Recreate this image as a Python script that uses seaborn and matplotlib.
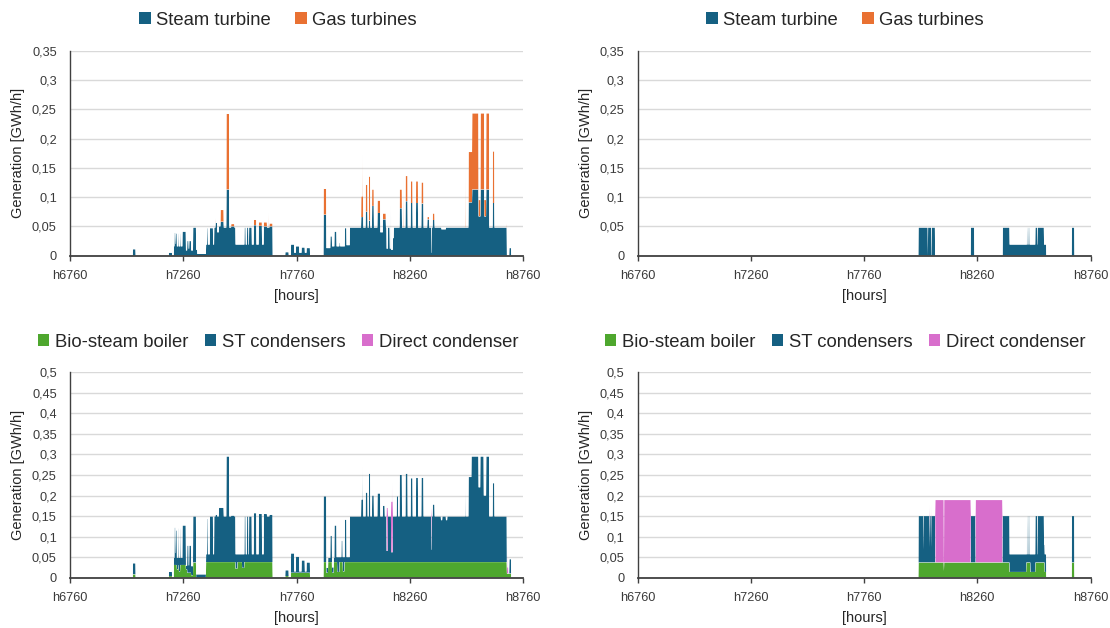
import numpy as np
import pandas as pd
import matplotlib
matplotlib.use("Agg")
import matplotlib.pyplot as plt
import seaborn as sns
import seaborn.objects as so
from matplotlib.patches import Patch

# ---------------------------------------------------------------------------
# Hourly generation, stored as run-length segments: (first hour, end hour, GWh/h)
# ---------------------------------------------------------------------------
hour_ticks = [6760, 7260, 7760, 8260, 8760]
hour_tick_labels = ["h6760", "h7260", "h7760", "h8260", "h8760"]

top_y_ticks = [0, 0.05, 0.10, 0.15, 0.20, 0.25, 0.30, 0.35]
top_y_labels = ["0", "0,05", "0,1", "0,15", "0,2", "0,25", "0,3", "0,35"]
bottom_y_ticks = [0, 0.05, 0.10, 0.15, 0.20, 0.25, 0.30, 0.35, 0.40, 0.45, 0.50]
bottom_y_labels = ["0", "0,05", "0,1", "0,15", "0,2", "0,25", "0,3", "0,35",
                   "0,4", "0,45", "0,5"]

turbine_series = ["Steam turbine", "Gas turbines"]
condenser_series = ["Bio-steam boiler", "ST condensers", "Direct condenser"]

steam_turbine_left = [
    (7038, 7050, 0.011), (7197, 7211, 0.005),
    (7219, 7222, 0.016), (7222, 7226, 0.039), (7226, 7228, 0.020), (7228, 7232, 0.038),
    (7232, 7239, 0.016), (7239, 7241, 0.038), (7241, 7247, 0.016), (7247, 7249, 0.038),
    (7249, 7257, 0.016), (7257, 7272, 0.041), (7272, 7278, 0.009), (7278, 7284, 0.025),
    (7284, 7287, 0.012), (7287, 7295, 0.025), (7295, 7304, 0.009), (7304, 7317, 0.048),
    (7317, 7322, 0.010), (7322, 7361, 0.003),
    (7361, 7366, 0.019), (7366, 7369, 0.047), (7369, 7378, 0.019), (7378, 7392, 0.047),
    (7392, 7397, 0.019), (7397, 7403, 0.048), (7403, 7410, 0.056), (7410, 7418, 0.040),
    (7418, 7425, 0.050), (7425, 7439, 0.058), (7439, 7451, 0.048), (7451, 7463, 0.113),
    (7463, 7472, 0.048), (7472, 7486, 0.050), (7486, 7491, 0.048), (7491, 7531, 0.019),
    (7531, 7536, 0.048), (7536, 7542, 0.019), (7542, 7548, 0.048), (7548, 7551, 0.019),
    (7551, 7563, 0.048), (7563, 7572, 0.019), (7572, 7583, 0.052), (7583, 7594, 0.019),
    (7594, 7608, 0.051), (7608, 7616, 0.019), (7616, 7630, 0.050), (7630, 7641, 0.048),
    (7641, 7655, 0.050),
    (7711, 7726, 0.006),
    (7736, 7750, 0.019), (7750, 7758, 0.005), (7758, 7772, 0.016), (7772, 7783, 0.005),
    (7783, 7797, 0.014), (7797, 7805, 0.005), (7805, 7820, 0.013),
    (7880, 7892, 0.070), (7892, 7910, 0.013), (7910, 7917, 0.033), (7917, 7928, 0.016),
    (7928, 7937, 0.041), (7937, 7950, 0.016), (7950, 7953, 0.022), (7953, 7974, 0.016),
    (7974, 7981, 0.047), (7981, 7996, 0.018),
    (7996, 8046, 0.048), (8046, 8055, 0.066), (8055, 8066, 0.048), (8066, 8074, 0.075),
    (8074, 8080, 0.048), (8080, 8086, 0.060), (8086, 8094, 0.048), (8094, 8102, 0.085),
    (8102, 8118, 0.048), (8118, 8130, 0.073), (8130, 8142, 0.040), (8142, 8155, 0.062),
    (8155, 8158, 0.048), (8158, 8164, 0.012), (8164, 8172, 0.048), (8172, 8177, 0.012),
    (8177, 8178, 0.085), (8178, 8186, 0.010), (8186, 8190, 0.030), (8190, 8216, 0.048),
    (8216, 8226, 0.081), (8226, 8242, 0.048), (8242, 8251, 0.093), (8251, 8265, 0.048),
    (8265, 8273, 0.090), (8273, 8288, 0.048), (8288, 8297, 0.090), (8297, 8312, 0.048),
    (8312, 8321, 0.089), (8321, 8338, 0.048), (8338, 8346, 0.062), (8346, 8356, 0.048),
    (8356, 8358, 0.005), (8358, 8362, 0.048), (8362, 8370, 0.061), (8370, 8400, 0.048),
    (8400, 8420, 0.045), (8420, 8520, 0.048),
    (8520, 8536, 0.091), (8536, 8564, 0.113), (8564, 8573, 0.067), (8573, 8589, 0.113),
    (8589, 8598, 0.067), (8598, 8611, 0.113), (8611, 8627, 0.048), (8627, 8634, 0.090),
    (8634, 8689, 0.048),
    (8700, 8708, 0.013),
]

gas_turbines_left = [
    (7404, 7405, 0.008), (7425, 7439, 0.020), (7451, 7463, 0.129), (7472, 7486, 0.004),
    (7572, 7583, 0.009), (7594, 7608, 0.006), (7616, 7630, 0.007), (7636, 7637, 0.025),
    (7641, 7655, 0.005),
    (7880, 7892, 0.044),
    (8046, 8050, 0.035), (8050, 8051, 0.107), (8051, 8055, 0.035),
    (8066, 8074, 0.046), (8080, 8086, 0.075), (8094, 8102, 0.028), (8118, 8130, 0.021),
    (8142, 8155, 0.010), (8216, 8226, 0.032), (8232, 8233, 0.080), (8242, 8251, 0.043),
    (8265, 8273, 0.037), (8288, 8297, 0.037), (8312, 8321, 0.036), (8338, 8346, 0.004),
    (8362, 8370, 0.011), (8505, 8506, 0.099),
    (8520, 8536, 0.086), (8536, 8564, 0.130), (8564, 8573, 0.028), (8573, 8589, 0.130),
    (8589, 8598, 0.028), (8598, 8611, 0.130), (8627, 8634, 0.088), (8686, 8687, 0.008),
]

steam_turbine_right = [
    (8001, 8042, 0.048), (8043, 8057, 0.048), (8059, 8074, 0.048),
    (8232, 8247, 0.048),
    (8373, 8403, 0.048), (8403, 8480, 0.019), (8480, 8482, 0.048), (8482, 8487, 0.019),
    (8487, 8491, 0.048), (8491, 8517, 0.019), (8517, 8526, 0.048), (8526, 8528, 0.019),
    (8528, 8555, 0.048), (8555, 8565, 0.019),
    (8678, 8689, 0.048),
]

gas_turbines_right = []

bio_boiler_left = [
    (7038, 7050, 0.008), (7197, 7211, 0.004),
    (7219, 7232, 0.031), (7232, 7239, 0.020), (7239, 7241, 0.031), (7241, 7247, 0.015),
    (7247, 7272, 0.031), (7272, 7278, 0.020), (7278, 7295, 0.012), (7295, 7304, 0.006),
    (7304, 7317, 0.037),
    (7361, 7491, 0.038), (7491, 7500, 0.022), (7500, 7520, 0.038), (7520, 7530, 0.024),
    (7530, 7655, 0.038),
    (7711, 7726, 0.004), (7736, 7820, 0.012),
    (7880, 7892, 0.038), (7892, 7900, 0.012), (7900, 7917, 0.038), (7917, 7925, 0.012),
    (7925, 7940, 0.038), (7940, 7950, 0.014), (7950, 7965, 0.038), (7965, 7972, 0.015),
    (7972, 8689, 0.038), (8689, 8708, 0.010),
]

st_condensers_left = [
    (7038, 7050, 0.027), (7197, 7211, 0.010),
    (7219, 7222, 0.017), (7222, 7226, 0.091), (7226, 7228, 0.029), (7228, 7232, 0.084),
    (7232, 7239, 0.028), (7239, 7241, 0.089), (7241, 7247, 0.033), (7247, 7249, 0.089),
    (7249, 7257, 0.017), (7257, 7272, 0.096), (7272, 7278, 0.009), (7278, 7284, 0.066),
    (7284, 7287, 0.018), (7287, 7295, 0.066), (7295, 7304, 0.022), (7304, 7317, 0.112),
    (7317, 7361, 0.008),
    (7361, 7366, 0.019), (7366, 7369, 0.105), (7369, 7378, 0.019), (7378, 7392, 0.111),
    (7392, 7397, 0.019), (7397, 7403, 0.111), (7403, 7410, 0.115), (7410, 7418, 0.111),
    (7418, 7439, 0.132), (7439, 7451, 0.111), (7451, 7463, 0.257), (7463, 7472, 0.111),
    (7472, 7486, 0.113), (7486, 7491, 0.111), (7491, 7500, 0.035), (7500, 7520, 0.019),
    (7520, 7530, 0.033), (7530, 7531, 0.019), (7531, 7536, 0.111), (7536, 7542, 0.019),
    (7542, 7548, 0.111), (7548, 7551, 0.019), (7551, 7563, 0.111), (7563, 7572, 0.019),
    (7572, 7583, 0.119), (7583, 7594, 0.019), (7594, 7608, 0.117), (7608, 7616, 0.019),
    (7616, 7630, 0.117), (7630, 7641, 0.111), (7641, 7655, 0.115),
    (7711, 7726, 0.014),
    (7736, 7750, 0.047), (7750, 7758, 0.003), (7758, 7772, 0.039), (7772, 7783, 0.003),
    (7783, 7797, 0.030), (7797, 7805, 0.003), (7805, 7820, 0.025),
    (7880, 7892, 0.160), (7892, 7900, 0.012), (7900, 7910, 0.010), (7910, 7917, 0.064),
    (7917, 7925, 0.013), (7925, 7928, 0.010), (7928, 7937, 0.089), (7937, 7940, 0.012),
    (7940, 7950, 0.036), (7950, 7959, 0.012), (7959, 7964, 0.052), (7964, 7965, 0.012),
    (7965, 7972, 0.035), (7972, 7974, 0.012), (7974, 7981, 0.103), (7981, 7996, 0.012),
    (7996, 8046, 0.111), (8046, 8050, 0.152), (8050, 8051, 0.232), (8051, 8055, 0.152),
    (8055, 8066, 0.111), (8066, 8074, 0.169), (8074, 8080, 0.111), (8080, 8086, 0.215),
    (8086, 8094, 0.111), (8094, 8102, 0.162), (8102, 8118, 0.111), (8118, 8130, 0.167),
    (8130, 8142, 0.111), (8142, 8150, 0.137), (8150, 8158, 0.111), (8158, 8164, 0.027),
    (8164, 8178, 0.111), (8178, 8186, 0.024), (8186, 8203, 0.111), (8203, 8209, 0.160),
    (8209, 8216, 0.111), (8216, 8226, 0.212), (8226, 8242, 0.111), (8242, 8251, 0.215),
    (8251, 8265, 0.111), (8265, 8273, 0.204), (8273, 8288, 0.111), (8288, 8297, 0.205),
    (8297, 8312, 0.111), (8312, 8321, 0.205), (8321, 8356, 0.111), (8356, 8358, 0.030),
    (8358, 8362, 0.111), (8362, 8370, 0.140), (8370, 8398, 0.111), (8398, 8404, 0.102),
    (8404, 8420, 0.111), (8420, 8426, 0.102), (8426, 8505, 0.111), (8505, 8506, 0.180),
    (8506, 8520, 0.111), (8520, 8533, 0.207), (8533, 8564, 0.257), (8564, 8572, 0.182),
    (8572, 8587, 0.257), (8587, 8598, 0.162), (8598, 8611, 0.257), (8611, 8627, 0.111),
    (8627, 8634, 0.192), (8634, 8689, 0.111),
    (8700, 8708, 0.035),
]

direct_condenser_left = [
    (8158, 8164, 0.105), (8178, 8182, 0.123), (8182, 8183, 0.168), (8183, 8186, 0.123),
    (8356, 8358, 0.100),
    (8690, 8692, 0.015), (8692, 8693, 0.070), (8693, 8696, 0.015),
]

bio_boiler_right = [
    (8001, 8113, 0.037), (8113, 8114, 0.016), (8114, 8403, 0.037), (8403, 8477, 0.014),
    (8477, 8495, 0.037), (8495, 8517, 0.014), (8517, 8558, 0.037), (8558, 8565, 0.014),
    (8678, 8689, 0.037),
]

st_condensers_right = [
    (8001, 8023, 0.113), (8023, 8024, 0.030), (8024, 8050, 0.113), (8050, 8051, 0.037),
    (8051, 8056, 0.113), (8056, 8057, 0.037), (8057, 8075, 0.113),
    (8232, 8253, 0.113),
    (8372, 8403, 0.113), (8403, 8477, 0.043), (8477, 8480, 0.020), (8480, 8482, 0.113),
    (8482, 8487, 0.020), (8487, 8491, 0.113), (8491, 8495, 0.020), (8495, 8517, 0.043),
    (8517, 8526, 0.113), (8526, 8528, 0.020), (8528, 8555, 0.113), (8555, 8565, 0.043),
    (8678, 8689, 0.113),
]

direct_condenser_right = [
    (8050, 8051, 0.102), (8056, 8057, 0.102),
    (8075, 8113, 0.152), (8114, 8232, 0.152), (8253, 8372, 0.152),
]

colors = {
    "Steam turbine": "#156082",
    "Gas turbines": "#E97132",
    "Bio-steam boiler": "#4EA72E",
    "ST condensers": "#156082",
    "Direct condenser": "#D86ECC",
}

HOURS = np.arange(6760, 8761)


def expand(segments):
    values = np.zeros(len(HOURS))
    for start, end, val in segments:
        values[(HOURS >= start) & (HOURS < end)] = val
    return values


def long_frame(names, segment_lists):
    parts = [pd.DataFrame({"hour": HOURS, "value": expand(seg), "series": name})
             for name, seg in zip(names, segment_lists)]
    return pd.concat(parts, ignore_index=True)


# ---------------------------------------------------------------------------
# Styling
# ---------------------------------------------------------------------------
FONT = ["Liberation Sans", "DejaVu Sans"]
sns.set_theme(style="white")
plt.rcParams["font.family"] = FONT
so.Plot.config.theme.update({"font.family": FONT, "axes.facecolor": "white"})

TEXT = "#262626"
TICK_TEXT = "#3a3a3a"
AXIS_LINE = "#404040"
GRID = "#d9d9d9"

fig = plt.figure(figsize=(11.1, 6.28), dpi=100)
FW = 1110.0
W = 453 / FW
LEFT_X = 70 / FW
RIGHT_X = 637.5 / FW
ax_tl = fig.add_axes([LEFT_X, 0.5928, W, 0.3265])
ax_tr = fig.add_axes([RIGHT_X, 0.5928, W, 0.3265])
ax_bl = fig.add_axes([LEFT_X, 0.0801, W, 0.3271])
ax_br = fig.add_axes([RIGHT_X, 0.0801, W, 0.3271])

panels = [
    (ax_tl, turbine_series, [steam_turbine_left, gas_turbines_left]),
    (ax_tr, turbine_series, [steam_turbine_right, gas_turbines_right]),
    (ax_bl, condenser_series, [bio_boiler_left, st_condensers_left, direct_condenser_left]),
    (ax_br, condenser_series, [bio_boiler_right, st_condensers_right, direct_condenser_right]),
]

for ax, names, segs in panels:
    df = long_frame(names, segs)
    (
        so.Plot(df, x="hour", y="value", color="series")
        .add(so.Area(alpha=1, edgewidth=0), so.Stack())
        .scale(color=so.Nominal({n: colors[n] for n in names}, order=names))
        .on(ax)
        .plot()
    )

# seaborn adds its own figure legends; they are replaced below
fig.legends.clear()
fig.set_layout_engine("none")


def style_axes(ax, ymax, yticks, ylabels):
    ax.set_facecolor("white")
    ax.set_xlim(hour_ticks[0], hour_ticks[-1])
    ax.set_ylim(0, ymax)
    ax.set_xticks(hour_ticks)
    ax.set_xticklabels(hour_tick_labels, fontsize=9.2, color=TICK_TEXT, family=FONT)
    ax.set_yticks(yticks)
    ax.set_yticklabels(ylabels, fontsize=9.2, color=TICK_TEXT, family=FONT)
    ax.grid(False)
    ax.yaxis.grid(True, color=GRID, linewidth=1.0)
    ax.set_axisbelow(True)
    for side in ("top", "right"):
        ax.spines[side].set_visible(False)
    ax.spines["left"].set_color(AXIS_LINE)
    ax.spines["left"].set_linewidth(1.0)
    ax.spines["bottom"].set_color(AXIS_LINE)
    ax.spines["bottom"].set_linewidth(1.3)
    ax.tick_params(axis="x", which="major", direction="out", length=3.5, width=1.0,
                   color=AXIS_LINE, pad=6.5, bottom=True)
    ax.tick_params(axis="y", length=0, pad=9.5, left=True)
    ax.set_xlabel("[hours]", fontsize=10.5, color=TEXT, family=FONT)
    ax.set_ylabel("Generation [GWh/h]", fontsize=10.5, color=TEXT, family=FONT)
    ax.xaxis.label.set_va("center")
    ax.yaxis.label.set_va("center")
    ax.xaxis.set_label_coords(0.5, -0.197)
    ax.yaxis.set_label_coords(-0.114, 0.5)


style_axes(ax_tl, 0.35, top_y_ticks, top_y_labels)
style_axes(ax_tr, 0.35, top_y_ticks, top_y_labels)
style_axes(ax_bl, 0.5, bottom_y_ticks, bottom_y_labels)
style_axes(ax_br, 0.5, bottom_y_ticks, bottom_y_labels)


def add_legend(names, cx, cy, spacing):
    handles = [Patch(facecolor=colors[n], edgecolor="none") for n in names]
    leg = fig.legend(handles, names, loc="center", bbox_to_anchor=(cx, cy),
                     ncol=len(names), frameon=False,
                     prop={"family": FONT, "size": 13.3},
                     handlelength=0.62, handleheight=0.65, handletextpad=0.3,
                     columnspacing=spacing, borderpad=0, borderaxespad=0)
    for t in leg.get_texts():
        t.set_color(TEXT)
    return leg


add_legend(turbine_series, 278 / FW, 0.968, 1.3)
add_legend(turbine_series, 845 / FW, 0.968, 1.3)
add_legend(condenser_series, 278 / FW, 0.455, 0.9)
add_legend(condenser_series, 845 / FW, 0.455, 0.9)

fig.savefig("out.png", dpi=100, facecolor="white")
